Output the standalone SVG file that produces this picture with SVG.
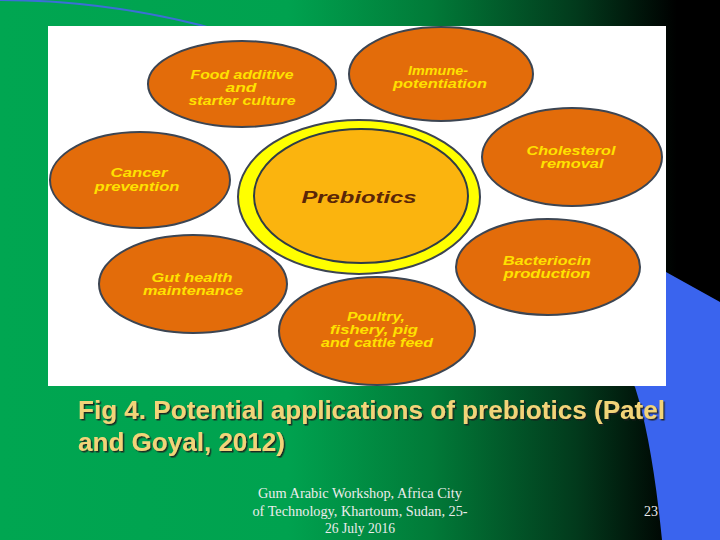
<svg xmlns="http://www.w3.org/2000/svg" width="720" height="540" viewBox="0 0 720 540">
<defs>
<linearGradient id="bg" x1="0" y1="0" x2="720" y2="0" gradientUnits="userSpaceOnUse">
<stop offset="0" stop-color="#00a651"/>
<stop offset="0.40" stop-color="#00a24f"/>
<stop offset="0.60" stop-color="#017a38"/>
<stop offset="0.80" stop-color="#023a1c"/>
<stop offset="0.94" stop-color="#000000"/>
</linearGradient>
<filter id="sh" x="-5%" y="-20%" width="110%" height="140%">
<feDropShadow dx="1.5" dy="1.5" stdDeviation="0.6" flood-color="#1a1a1a" flood-opacity="0.9"/>
</filter>
</defs>
<style>
.node{fill:#e36c0a;stroke:#3c4552;stroke-width:2}
.lbl{font-family:"Liberation Sans",Arial,sans-serif;font-weight:bold;font-style:italic;font-size:12px;fill:#ffe100;text-anchor:middle}
.cap{font-family:"Liberation Sans",Arial,sans-serif;font-weight:bold;font-size:25px;fill:#f2d479}
.foot{font-family:"Liberation Serif","Times New Roman",serif;font-size:14px;fill:#ececec;text-anchor:middle}
</style>
<rect x="0" y="0" width="720" height="540" fill="url(#bg)"/>
<path d="M0 0 Q100 0 200 25 Q230 33 270 50" fill="none" stroke="#3b6fd6" stroke-width="2"/>
<path d="M666 272 L720 302 L720 540 L662 540 Q652 440 635 387 L600 340 Z" fill="#3a64ee"/>
<rect x="48" y="26" width="618" height="360" fill="#ffffff"/>

<g id="food-additive"><ellipse class="node" cx="242" cy="84" rx="94" ry="43"/>
<text class="lbl" x="242" y="79" textLength="103" lengthAdjust="spacingAndGlyphs">Food additive</text>
<text class="lbl" x="241" y="92" textLength="31" lengthAdjust="spacingAndGlyphs">and</text>
<text class="lbl" x="242" y="105" textLength="107" lengthAdjust="spacingAndGlyphs">starter culture</text></g>

<g id="immune"><ellipse class="node" cx="441" cy="74" rx="92" ry="47"/>
<text class="lbl" x="438" y="75" textLength="60" lengthAdjust="spacingAndGlyphs">Immune-</text>
<text class="lbl" x="440" y="88" textLength="94" lengthAdjust="spacingAndGlyphs">potentiation</text></g>

<g id="cholesterol"><ellipse class="node" cx="572" cy="157" rx="90" ry="49"/>
<text class="lbl" x="571" y="155" textLength="89" lengthAdjust="spacingAndGlyphs">Cholesterol</text>
<text class="lbl" x="572" y="168" textLength="63" lengthAdjust="spacingAndGlyphs">removal</text></g>

<g id="cancer"><ellipse class="node" cx="140" cy="180" rx="90" ry="48"/>
<text class="lbl" x="139" y="177" textLength="57" lengthAdjust="spacingAndGlyphs">Cancer</text>
<text class="lbl" x="137" y="191" textLength="85" lengthAdjust="spacingAndGlyphs">prevention</text></g>

<g id="bacteriocin"><ellipse class="node" cx="548" cy="267" rx="92" ry="48"/>
<text class="lbl" x="547" y="265" textLength="88" lengthAdjust="spacingAndGlyphs">Bacteriocin</text>
<text class="lbl" x="547" y="278" textLength="87" lengthAdjust="spacingAndGlyphs">production</text></g>

<g id="gut-health"><ellipse class="node" cx="193" cy="284" rx="94" ry="49"/>
<text class="lbl" x="192" y="282" textLength="81" lengthAdjust="spacingAndGlyphs">Gut health</text>
<text class="lbl" x="193" y="295" textLength="100" lengthAdjust="spacingAndGlyphs">maintenance</text></g>

<g id="poultry"><ellipse class="node" cx="377" cy="331" rx="98" ry="54"/>
<text class="lbl" x="376" y="321" textLength="58" lengthAdjust="spacingAndGlyphs">Poultry,</text>
<text class="lbl" x="374" y="334" textLength="88" lengthAdjust="spacingAndGlyphs">fishery, pig</text>
<text class="lbl" x="377" y="347" textLength="112" lengthAdjust="spacingAndGlyphs">and cattle feed</text></g>

<g id="prebiotics"><ellipse cx="359" cy="197" rx="121" ry="77" fill="#ffff00" stroke="#3c4552" stroke-width="2"/>
<ellipse cx="361" cy="196" rx="107" ry="67" fill="#fbb40e" stroke="#2f3c45" stroke-width="2"/>
<text x="359" y="203" textLength="115" lengthAdjust="spacingAndGlyphs" style="font-family:'Liberation Sans',Arial,sans-serif;font-weight:bold;font-style:italic;font-size:16px;fill:#5a2608;text-anchor:middle">Prebiotics</text></g>

<g id="caption" filter="url(#sh)">
<text class="cap" x="78" y="419" textLength="587" lengthAdjust="spacingAndGlyphs">Fig 4. Potential applications of prebiotics (Patel</text>
<text class="cap" x="78" y="451" textLength="207" lengthAdjust="spacingAndGlyphs">and Goyal, 2012)</text>
</g>

<g id="footer">
<text class="foot" x="360" y="498" textLength="204" lengthAdjust="spacingAndGlyphs">Gum Arabic Workshop, Africa City</text>
<text class="foot" x="360" y="516" textLength="215" lengthAdjust="spacingAndGlyphs">of Technology, Khartoum, Sudan, 25-</text>
<text class="foot" x="360" y="533" textLength="70" lengthAdjust="spacingAndGlyphs">26 July 2016</text>
<text class="foot" x="651" y="516">23</text>
</g>
</svg>
